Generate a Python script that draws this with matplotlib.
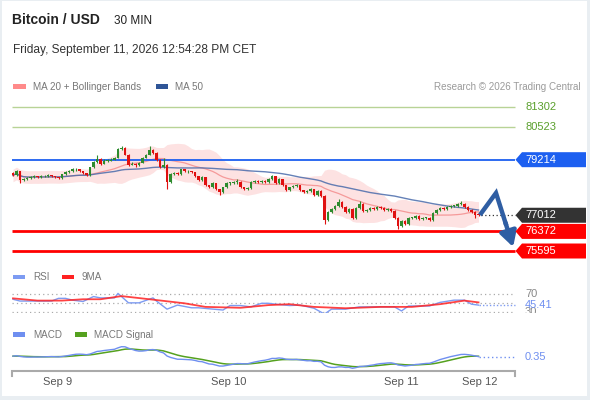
import numpy as np
import pandas as pd
import matplotlib
matplotlib.use("Agg")
import matplotlib.pyplot as plt
from matplotlib.patches import Rectangle, Polygon
from matplotlib.transforms import blended_transform_factory

plt.rcParams['font.family'] = ['Liberation Sans', 'DejaVu Sans']

# ---------------- data ----------------
title = "Bitcoin / USD"
timeframe = "30 MIN"
timestamp = "Friday, September 11, 2026 12:54:28 PM CET"
credit = "Research © 2026 Trading Central"

first_open = 78669
close = [
    78590, 78747, 78394, 78433, 78472, 78512, 78551, 78512, 78551, 78551,
    78590, 78551, 78512, 78472, 78630, 78708, 78747, 78826, 78826, 78747,
    78669, 78590, 78905, 79141, 79259, 79062, 79180, 79180, 79219, 79298,
    79651, 79691, 79416, 79023, 79062, 78984, 79101, 79298, 79416, 79612,
    79494, 79219, 78944, 79023, 78315, 78630, 78669, 78630, 78826, 78747,
    78747, 78708, 78551, 78394, 78512, 78197, 78119, 78276, 78040, 77922,
    78119, 78276, 78276, 78315, 78315, 78119, 78040, 78080, 78315, 78354,
    78315, 78354, 78315, 78433, 78551, 78276, 78433, 78197, 78001, 78119,
    78158, 78197, 78001, 77922, 77962, 78040, 77805, 77962, 77765, 76822,
    77137, 77254, 77372, 77530, 77333, 77137, 77254, 76901, 77294, 77451,
    77176, 77215, 77294, 77254, 77333, 77294, 77215, 77254, 77176, 76901,
    76586, 76783, 76665, 76901, 76901, 76980, 76862, 76901, 76901, 76822,
    77097, 77215, 77294, 77254, 77333, 77372, 77372, 77451, 77451, 77333,
    77215, 77137, 77030, 77012,
]
high = [
    78710, 78790, 78770, 78470, 78510, 78550, 78590, 78580, 78590, 78600,
    78630, 78620, 78580, 78540, 78660, 78750, 78790, 78870, 78880, 78860,
    78770, 78700, 78940, 79180, 79380, 79290, 79230, 79240, 79270, 79340,
    79690, 79770, 79730, 79440, 79110, 79100, 79140, 79330, 79450, 79770,
    79650, 79520, 79250, 79300, 79060, 78680, 78710, 78710, 78860, 78860,
    78800, 78780, 78740, 78580, 78550, 78540, 78230, 78310, 78300, 78070,
    78150, 78310, 78330, 78360, 78430, 78350, 78150, 78120, 78350, 78400,
    78390, 78400, 78390, 78470, 78590, 78580, 78470, 78460, 78230, 78150,
    78200, 78240, 78230, 78030, 78000, 78080, 78070, 78000, 78000, 77800,
    77180, 77290, 77410, 77650, 77560, 77370, 77290, 77280, 77330, 77570,
    77480, 77260, 77330, 77330, 77370, 77370, 77330, 77290, 77290, 77210,
    76930, 76820, 76810, 76940, 76950, 77020, 77010, 76940, 76950, 76940,
    77130, 77250, 77330, 77330, 77370, 77410, 77420, 77490, 77570, 77480,
    77370, 77250, 77170, 77070,
]
low = [
    78550, 78560, 78276, 78360, 78400, 78440, 78480, 78470, 78490, 78510,
    78520, 78510, 78470, 78430, 78450, 78600, 78670, 78720, 78780, 78710,
    78630, 78550, 78570, 78880, 79100, 79020, 79030, 79130, 79150, 79190,
    79270, 79610, 79380, 78980, 78990, 78940, 78950, 79070, 79270, 79390,
    79450, 79180, 78900, 78900, 78040, 78280, 78600, 78590, 78600, 78710,
    78700, 78670, 78510, 78350, 78360, 78160, 78080, 78090, 78000, 77800,
    77890, 78090, 78230, 78240, 78270, 78080, 78000, 78010, 78050, 78290,
    78280, 78280, 78280, 78290, 78400, 78240, 78250, 78160, 77960, 77970,
    78090, 78120, 77960, 77880, 77890, 77930, 77770, 77780, 77730, 76650,
    76780, 77100, 77220, 77340, 77300, 77100, 77100, 76860, 76880, 77260,
    77140, 77140, 77180, 77220, 77220, 77260, 77180, 77180, 77140, 76860,
    76470, 76550, 76620, 76630, 76860, 76870, 76820, 76830, 76860, 76780,
    76790, 77070, 77180, 77220, 77220, 77300, 77330, 77340, 77410, 77300,
    77180, 77100, 76900, 76980,
]

resistance_levels = [81302, 80523]
pivot_level = 79214
support_levels = [76372, 75595]

forecast_idx = [133.4, 138.0, 142.9]
forecast_price = [77022, 77894, 75754]

rsi_idx = [0, 2, 6, 11, 13, 15, 17, 20, 23, 25, 29, 30, 33, 36, 40, 41, 44, 47, 51, 53,
           60, 62, 65, 68, 71, 73, 75, 79, 82, 86, 89, 91, 95, 99, 105, 109, 111, 113,
           119, 122, 126, 129, 131, 133]
rsi_val = [59, 55, 55, 55, 61, 61, 57, 54, 65, 62, 62, 72, 51, 51, 62, 55, 37, 46, 40, 40,
           35, 45, 45, 42, 50, 50, 48, 45, 46, 39, 26, 37, 37, 42, 42, 42, 33, 44,
           44, 52, 57, 57, 48, 46]
rsi_ma_idx = [0, 7, 14, 20, 25, 31, 39, 49, 55, 65, 73, 79, 86, 95, 105, 114, 122, 129, 133]
rsi_ma_val = [61, 56, 56, 59, 59, 66, 59, 50, 42, 40, 46, 48, 42, 39, 42, 42, 48, 56, 52]
rsi_levels = [70, 50, 30]
rsi_last_text = "45.41"
macd_last_text = "0.35"

date_labels = ["Sep 9", "Sep 10", "Sep 11", "Sep 12"]
date_idx = [12.6, 61.7, 110.9, 133.4]

# ---------------- styles ----------------
GREEN = '#2e8b2e'
RED = '#e01010'
BAND = '#fde2e2'
MA20_C = '#f59a9a'
MA50_C = '#4a6bab'
PIVOT_C = '#1c5ff0'
RES_LINE = '#b8d396'
RES_TEXT = '#5aa02c'
SUP_C = '#ff0000'
DARK = '#333333'
ARROW = '#2f5ea3'
RSI_C = '#7d9bf2'
RSI_MA_C = '#ff2222'
MACD_C = '#6f8ff0'
SIG_C = '#55a11f'
GRID_C = '#aaaaaa'

W, H = 590, 400
fig = plt.figure(figsize=(W / 100, H / 100), dpi=100)
fig.patch.set_facecolor('#e9eef2')

ov = fig.add_axes([0, 0, 1, 1])
ov.set_xlim(0, W)
ov.set_ylim(H, 0)
ov.axis('off')
ov.add_patch(Rectangle((2, 1), 585, 395, facecolor='white', edgecolor='none'))

X0, DX = 13.0, 3.5


def to_idx(px):
    return (px - X0) / DX


def add_ax(x0, y0, x1, y1):
    a = fig.add_axes([x0 / W, 1 - y1 / H, (x1 - x0) / W, (y1 - y0) / H])
    a.set_facecolor('none')
    a.axis('off')
    a.set_xlim(to_idx(x0), to_idx(x1))
    return a


LINE_END = to_idx(515)
LABEL_X = to_idx(525)

# ---------------- header text ----------------
ov.text(12, 24.5, title, fontsize=10, fontweight='bold', color='#222222', va='baseline')
ov.text(114, 23.5, timeframe, fontsize=8.5, color='#222222', va='baseline')
ov.text(13, 53, timestamp, fontsize=8.6, color='#333333', va='baseline')

ov.add_patch(Rectangle((13, 84), 13, 4.5, facecolor='#ff8a8a', edgecolor='none'))
ov.text(33, 86.5, "MA 20 + Bollinger Bands", fontsize=7.1, color='#777777', va='center')
ov.add_patch(Rectangle((156, 84), 12, 4.5, facecolor='#2f5597', edgecolor='none'))
ov.text(175, 86.5, "MA 50", fontsize=7.1, color='#777777', va='center')
ov.text(581, 86.5, credit, fontsize=7.1, color='#9a9a9a', va='center', ha='right')

ov.add_patch(Rectangle((13, 274.5), 12, 4.5, facecolor=RSI_C, edgecolor='none'))
ov.text(33, 277, "RSI", fontsize=7.1, color='#777777', va='center')
ov.add_patch(Rectangle((62, 274.5), 12, 4.5, facecolor=RSI_MA_C, edgecolor='none'))
ov.text(82, 277, "9MA", fontsize=7.1, color='#777777', va='center')

ov.add_patch(Rectangle((13, 332), 12, 4.5, facecolor=MACD_C, edgecolor='none'))
ov.text(33, 334.5, "MACD", fontsize=7.1, color='#777777', va='center')
ov.add_patch(Rectangle((75, 332), 12, 4.5, facecolor=SIG_C, edgecolor='none'))
ov.text(94, 334.5, "MACD Signal", fontsize=7.1, color='#777777', va='center')

ov.plot([12, 12, 515, 515], [376, 371, 371, 376], color='#aaaaaa', lw=1.5,
        solid_joinstyle='miter')

# ---------------- main price panel ----------------
ax = add_ax(12, 95, 590, 262)
YMIN, YMAX = 75159.4, 81777.6
ax.set_ylim(YMIN, YMAX)
PPX = (YMAX - YMIN) / 167.0

s = pd.Series(close, dtype=float)
idx = np.arange(len(close))
opens = np.array([first_open] + close[:-1], dtype=float)
c = np.array(close, dtype=float)
hi = np.maximum(np.array(high, dtype=float), np.maximum(opens, c))
lo = np.minimum(np.array(low, dtype=float), np.minimum(opens, c))

ma20 = s.rolling(20, min_periods=1).mean()
sd20 = s.rolling(20, min_periods=20).std(ddof=0).bfill()
upper = ma20 + 2 * sd20
lower = ma20 - 2 * sd20
ma50 = s.rolling(50, min_periods=1).mean()

ax.fill_between(idx, lower, upper, color=BAND, lw=0, zorder=1)
ax.plot(idx, ma20, color=MA20_C, lw=0.9, zorder=2)
ax.plot(idx, ma50, color=MA50_C, lw=1.0, alpha=0.85, zorder=2)

for lvl in resistance_levels:
    ax.hlines(lvl, to_idx(12), LINE_END, colors=RES_LINE, lw=1.0, zorder=2)
    ax.text(LABEL_X, lvl, f"{lvl}", color=RES_TEXT, fontsize=8, va='center', ha='left')

ax.hlines(pivot_level, to_idx(12), LINE_END, colors=PIVOT_C, lw=1.3, zorder=2)
for lvl in support_levels:
    ax.hlines(lvl, to_idx(12), LINE_END, colors=SUP_C, lw=2.0, zorder=2)

up = c >= opens
cols = np.where(up, GREEN, RED)
ax.vlines(idx, lo, hi, colors=cols, lw=0.8, zorder=3)
body_h = np.maximum(np.abs(c - opens), 0.9 * PPX)
ax.bar(idx, body_h, bottom=np.minimum(opens, c), width=0.8, color=cols, lw=0, zorder=4)

ax.hlines(close[-1], idx[-1] + 0.6, LINE_END, colors=DARK, lw=0.9,
          linestyles=(0, (1, 2)), zorder=2)


def tag(a, y, text, fc):
    hh = 7.5 * PPX
    tip, body, right = to_idx(515.5), to_idx(522), to_idx(586)
    a.add_patch(Polygon([(tip, y), (body, y + hh), (right, y + hh), (right, y - hh),
                         (body, y - hh)], closed=True, facecolor=fc, edgecolor='none',
                        zorder=6, clip_on=False))
    a.text(to_idx(525), y, text, color='white', fontsize=8, va='center', ha='left', zorder=7)


tag(ax, pivot_level, f"{pivot_level}", PIVOT_C)
tag(ax, close[-1], f"{close[-1]}", DARK)
for lvl in support_levels:
    tag(ax, lvl, f"{lvl}", SUP_C)

# forecast arrow
ax.plot(forecast_idx[:2] + [forecast_idx[1] + (forecast_idx[2] - forecast_idx[1]) * 0.6],
        forecast_price[:2] + [forecast_price[1] + (forecast_price[2] - forecast_price[1]) * 0.6],
        color=ARROW, lw=3.2, solid_joinstyle='miter', solid_capstyle='butt', zorder=5)
ax.annotate('', xy=(forecast_idx[2], forecast_price[2]),
            xytext=(forecast_idx[1] + (forecast_idx[2] - forecast_idx[1]) * 0.55,
                    forecast_price[1] + (forecast_price[2] - forecast_price[1]) * 0.55),
            arrowprops=dict(arrowstyle='-|>,head_length=0.9,head_width=0.5', color=ARROW,
                            lw=3.2, shrinkA=0, shrinkB=0), zorder=5)

# ---------------- RSI panel ----------------
rax = add_ax(12, 290, 590, 313)
rax.set_ylim(28.4, 79.6)
for lvl in rsi_levels:
    rax.hlines(lvl, to_idx(12), LINE_END, colors=GRID_C, lw=0.9, linestyles=(0, (1, 2.5)))
rax.plot(rsi_idx, rsi_val, color=RSI_C, lw=1.0, zorder=3)
rax.plot(rsi_ma_idx, rsi_ma_val, color=RSI_MA_C, lw=1.3, alpha=0.85, zorder=4)
rax.hlines(rsi_val[-1], rsi_idx[-1], LINE_END, colors=RSI_C, lw=1.0, linestyles=(0, (1, 1.5)))
rax.text(LABEL_X, 70, "70", color='#888888', fontsize=8, va='center', clip_on=False)
rax.text(LABEL_X, 30, "30", color='#888888', fontsize=8, va='center', clip_on=True)
rax.text(LABEL_X, rsi_val[-1], rsi_last_text, color=MACD_C, fontsize=8, va='center')

# ---------------- MACD panel ----------------
max_ = add_ax(12, 340, 590, 372)
ema12 = s.ewm(span=12, adjust=False).mean()
ema26 = s.ewm(span=26, adjust=False).mean()
macd = ema12 - ema26
signal = macd.ewm(span=9, adjust=False).mean()
mn = min(macd.min(), signal.min())
mx = max(macd.max(), signal.max())
pp = (mx - mn) / 21.6
max_.set_ylim(mn - 3.7 * pp, mx + 6.7 * pp)
max_.plot(idx, signal, color=SIG_C, lw=1.1, zorder=3)
max_.plot(idx, macd, color=MACD_C, lw=1.0, zorder=4)
max_.hlines(macd.iloc[-1], idx[-1], LINE_END, colors=MACD_C, lw=1.0,
            linestyles=(0, (1, 2)))
max_.text(LABEL_X, macd.iloc[-1], macd_last_text, color=MACD_C, fontsize=8, va='center')

btr = blended_transform_factory(max_.transData, max_.transAxes)
for lab, pos in zip(date_labels, date_idx):
    max_.text(pos, -0.31, lab, transform=btr, ha='center', va='center', fontsize=8,
              color='#555555', clip_on=False)

fig.savefig('out.png', dpi=100, facecolor=fig.get_facecolor())
